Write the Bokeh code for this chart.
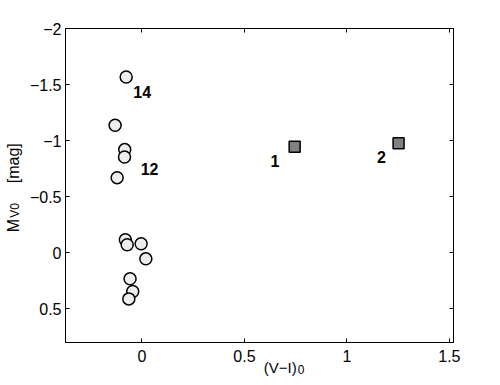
from bokeh.plotting import figure
from bokeh.models import (Range1d, FixedTicker, LinearAxis, ColumnDataSource,
                          CustomJSTickFormatter)
from bokeh.core.properties import value
from bokeh.embed import file_html
from bokeh.resources import INLINE

# clusters (circles)
circ_x = [-0.077, -0.131, -0.084, -0.085, -0.121, -0.081, -0.072, -0.004, 0.019, -0.058, -0.045, -0.064]
circ_y = [-1.568, -1.137, -0.920, -0.854, -0.670, -0.116, -0.071, -0.080, 0.054, 0.232, 0.346, 0.411]
# squares
sq_x = [0.745, 1.252]
sq_y = [-0.945, -0.976]
# annotations
lab_text = ["14", "12", "1", "2"]
lab_x = [0.001, 0.037, 0.649, 1.168]
lab_y = [-1.434, -0.750, -0.820, -0.850]

x_ticks = [0, 0.5, 1, 1.5]
y_ticks = [-2, -1.5, -1, -0.5, 0, 0.5]

FONT = "Liberation Sans"
NB = "\u00a0"

minus_fmt = CustomJSTickFormatter(code="return String(tick).replace('-', '\\u2212');")
blank_fmt = CustomJSTickFormatter(code="return '';")

p = figure(width=492, height=385, output_backend="svg", toolbar_location=None,
           x_range=Range1d(-0.373, 1.52), y_range=Range1d(0.8, -2),
           min_border_left=65, min_border_right=39, min_border_top=28, min_border_bottom=43,
           background_fill_color="white", border_fill_color="white")
p.grid.visible = False
p.outline_line_color = "black"
p.outline_line_width = 1

for ax in [p.xaxis[0], p.yaxis[0]]:
    ax.major_tick_in = 4
    ax.major_tick_out = 0
    ax.minor_tick_line_color = None
    ax.axis_line_color = "black"
    ax.major_label_text_font = FONT
    ax.major_label_text_font_size = "16px"
    ax.major_label_text_color = "black"
    ax.formatter = minus_fmt
    ax.axis_label_text_font = FONT
    ax.axis_label_text_font_style = "normal"
    ax.axis_label_text_color = "black"
p.xaxis[0].ticker = FixedTicker(ticks=x_ticks)
p.yaxis[0].ticker = FixedTicker(ticks=y_ticks)
p.xaxis[0].major_label_standoff = 7
p.yaxis[0].major_label_standoff = 4

# x title main part "(V-I)" on the real x axis
p.xaxis[0].axis_label = NB * 10 + "(V\u2212I)"
p.xaxis[0].axis_label_text_font_size = "15px"
p.xaxis[0].axis_label_standoff = -6
# y title subscript "V0" on the real y axis
p.yaxis[0].axis_label = "V0" + NB * 15
p.yaxis[0].axis_label_text_font_size = "12px"
p.yaxis[0].axis_label_standoff = 5

top_ax = LinearAxis(ticker=FixedTicker(ticks=x_ticks), major_tick_in=4, major_tick_out=0,
                    minor_tick_line_color=None, formatter=blank_fmt, major_label_standoff=0)
right_ax = LinearAxis(ticker=FixedTicker(ticks=y_ticks), major_tick_in=4, major_tick_out=0,
                      minor_tick_line_color=None, formatter=blank_fmt, major_label_standoff=0)
p.add_layout(top_ax, "above")
p.add_layout(right_ax, "right")


def bare_axis(label, size, standoff):
    return LinearAxis(ticker=FixedTicker(ticks=[]), axis_line_color=None,
                      major_tick_in=0, major_tick_out=0, minor_tick_in=0, minor_tick_out=0,
                      major_tick_line_color=None, minor_tick_line_color=None,
                      major_label_standoff=0, formatter=blank_fmt,
                      axis_label=label, axis_label_standoff=standoff,
                      axis_label_text_font=FONT, axis_label_text_font_size=size,
                      axis_label_text_font_style="normal", axis_label_text_color="black")


# y title main part "M ... [mag]" (outer), x title subscript "0" (outer)
p.add_layout(bare_axis("M" + NB * 8 + "[mag]" + NB, "16px", -17), "left")
p.add_layout(bare_axis(NB * 25 + "0", "12px", -16), "below")

p.scatter(circ_x, circ_y, marker="circle", size=12, fill_color="#eeeeee",
          line_color="black", line_width=1.5)
p.scatter(sq_x, sq_y, marker="square", size=11, fill_color="#808080",
          line_color="black", line_width=1.5)

src = ColumnDataSource(dict(x=lab_x, y=lab_y, t=lab_text))
p.text(x="x", y="y", text="t", source=src, text_font=value(FONT),
       text_font_style="bold", text_font_size="16px", text_align="center",
       text_baseline="middle", text_color="black")

open("out.html", "w").write(file_html(p, INLINE))
